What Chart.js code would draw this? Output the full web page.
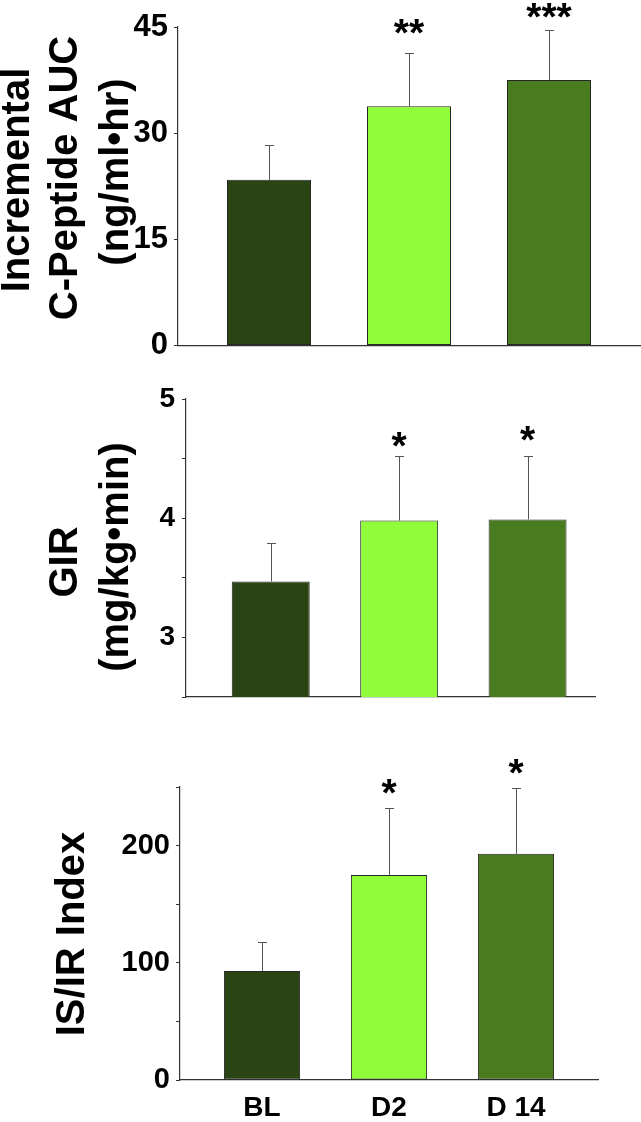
<!DOCTYPE html>
<html><head><meta charset="utf-8">
<script src="https://cdn.jsdelivr.net/npm/chart.js@4.4.0/dist/chart.umd.min.js"></script>
<style>
html,body{margin:0;padding:0;background:#fff;width:641px;height:1122px;overflow:hidden}
canvas{position:absolute;left:0}
</style></head><body>
<canvas id="c1" width="641" height="370" style="top:0px"></canvas>
<canvas id="c2" width="641" height="360" style="top:370px"></canvas>
<canvas id="c3" width="641" height="392" style="top:730px"></canvas>
<script>
// ---- data ----
const categories = ['BL', 'D2', 'D 14'];
const barColors = ['#2a4414', '#8ffd3a', '#487c1e'];

const cpepTitle = ['Incremental', 'C-Peptide AUC', '(ng/ml•hr)'];
const cpepValues = [23.4, 33.8, 37.5];
const cpepSEM = [4.9, 7.5, 7.1];
const cpepStars = ['', '**', '***'];
const cpepTicks = [0, 15, 30, 45];
const cpepTickLabels = ['0', '15', '30', '45'];

const girTitle = ['GIR', '(mg/kg•min)'];
const girValues = [3.47, 3.98, 3.99];
const girSEM = [0.32, 0.54, 0.53];
const girStars = ['', '*', '*'];
const girTicks = [2.5, 3, 3.5, 4, 4.5, 5];
const girTickLabels = ['', '3', '', '4', '', '5'];

const isirTitle = ['IS/IR Index'];
const isirValues = [93, 175, 193];
const isirSEM = [25, 57, 56];
const isirStars = ['', '*', '*'];
const isirTicks = [0, 50, 100, 150, 200, 250];
const isirTickLabels = ['0', '', '100', '', '200', ''];

// ---- rendering ----
const FONT = '"Liberation Sans", Arial, Helvetica, sans-serif';
Chart.defaults.font.family = FONT;
Chart.defaults.color = '#000';

function hasFont(name) {
  const c = document.createElement('canvas').getContext('2d');
  c.font = 'bold 40px monospace';
  const w1 = c.measureText('0123456789').width;
  c.font = 'bold 40px "' + name + '", monospace';
  return c.measureText('0123456789').width !== w1;
}
const NARROW = hasFont('Liberation Sans Narrow');
const TICK_FAMILY = NARROW ? '"Liberation Sans Narrow", ' + FONT : FONT;

const panelPlugin = {
  id: 'panelExtras',
  afterDatasetsDraw(chart, args, o) {
    const ctx = chart.ctx;
    const meta = chart.getDatasetMeta(0);
    const ys = chart.scales.y;
    ctx.save();
    ctx.strokeStyle = '#555';
    ctx.lineWidth = 1;
    meta.data.forEach((el, i) => {
      const top = Math.round(ys.getPixelForValue(o.values[i] + o.sem[i])) + 0.5;
      const x = Math.round(el.x) + 0.5;
      ctx.beginPath();
      ctx.moveTo(x, el.y);
      ctx.lineTo(x, top);
      ctx.moveTo(x - 4.5, top);
      ctx.lineTo(x + 4.5, top);
      ctx.stroke();
      if (o.stars[i]) {
        ctx.fillStyle = '#000';
        ctx.font = 'bold 39px ' + FONT;
        ctx.textAlign = 'center';
        ctx.textBaseline = 'middle';
        ctx.fillText(o.stars[i], el.x, top - o.starGap[i] + 8);
      }
    });
    ctx.fillStyle = '#000';
    ctx.font = 'bold 40px ' + FONT;
    ctx.textAlign = 'center';
    ctx.textBaseline = 'middle';
    o.title.forEach((line, i) => {
      ctx.save();
      ctx.translate(o.titleX[i], o.titleY[i]);
      ctx.rotate(-Math.PI / 2);
      ctx.fillText(line, 0, 0);
      ctx.restore();
    });
    ctx.restore();
  }
};

function makePanel(id, p) {
  const canvas = document.getElementById(id);
  const H = canvas.height;
  const xh = H - p.area.bottom;
  return new Chart(canvas, {
    type: 'bar',
    data: {
      datasets: [{
        data: p.values.map((v, i) => ({x: i, y: v})),
        backgroundColor: barColors,
        borderColor: '#262626',
        borderWidth: 1,
        borderSkipped: false,
        barPercentage: p.barPct,
        categoryPercentage: 1
      }]
    },
    options: {
      responsive: false,
      animation: false,
      events: [],
      layout: {padding: {left: 0, top: p.area.top, right: 641 - p.area.right, bottom: 0}},
      plugins: {
        legend: {display: false},
        tooltip: {enabled: false},
        panelExtras: {
          values: p.values, sem: p.sem, stars: p.stars, starGap: p.starGap,
          title: p.title, titleX: p.titleX, titleY: p.titleY
        }
      },
      scales: {
        x: {
          type: 'linear',
          offset: false,
          min: p.xMin,
          max: p.xMax,
          afterBuildTicks: s => { s.ticks = categories.map((c, i) => ({value: i})); },
          afterFit: s => { s.height = xh; },
          grid: {display: false, drawTicks: false},
          border: {display: true, color: '#333', width: 1.2},
          ticks: {
            display: p.showX,
            autoSkip: false,
            maxRotation: 0,
            padding: 11,
            font: {size: 28, weight: 'bold'},
            color: '#000',
            callback: (v, i) => categories[i]
          }
        },
        y: {
          type: 'linear',
          min: p.ticks[0],
          max: p.ticks[p.ticks.length - 1],
          afterBuildTicks: s => { s.ticks = p.ticks.map(v => ({value: v})); },
          afterFit: s => { s.width = p.area.left; },
          grid: {display: true, drawOnChartArea: false, drawTicks: true, tickLength: 4, color: '#333', lineWidth: 1},
          border: {display: true, color: '#333', width: 1.2},
          ticks: {
            padding: p.tickPad,
            autoSkip: false,
            font: {size: NARROW ? p.tickFontN : p.tickFont, weight: 'bold', family: TICK_FAMILY},
            color: '#000',
            callback: (v, i) => p.tickLabels[i]
          }
        }
      }
    },
    plugins: [panelPlugin]
  });
}

makePanel('c1', {
  values: cpepValues, sem: cpepSEM, stars: cpepStars, starGap: [0, 26, 19],
  ticks: cpepTicks, tickLabels: cpepTickLabels, tickFont: 31, tickFontN: 35, tickPad: 6,
  area: {left: 178, right: 640, top: 27, bottom: 349},
  xMin: -0.65, xMax: 2.65, barPct: 0.6, showX: false,
  title: cpepTitle, titleX: [18, 66, 117], titleY: [180, 178, 172]
});
makePanel('c2', {
  values: girValues, sem: girSEM, stars: girStars, starGap: [0, 16, 22],
  ticks: girTicks, tickLabels: girTickLabels, tickFont: 28, tickFontN: 31, tickPad: 7,
  area: {left: 186, right: 595, top: 29, bottom: 327},
  xMin: -0.66, xMax: 2.525, barPct: 0.607, showX: false,
  title: girTitle, titleX: [66, 117], titleY: [192, 187]
});
makePanel('c3', {
  values: isirValues, sem: isirSEM, stars: isirStars, starGap: [0, 21, 21],
  ticks: isirTicks, tickLabels: isirTickLabels, tickFont: 29, tickFontN: 34, tickPad: 6,
  area: {left: 180, right: 598, top: 57, bottom: 350},
  xMin: -0.646, xMax: 2.646, barPct: 0.6, showX: true,
  title: isirTitle, titleX: [73], titleY: [204]
});
</script>
</body></html>
